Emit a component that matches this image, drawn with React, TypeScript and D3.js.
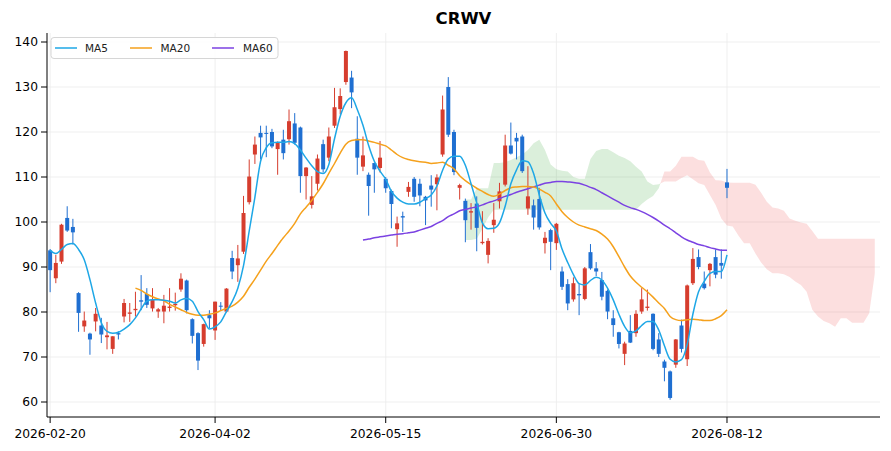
import * as d3 from "d3";

const W = 891;
const H = 451;
const box = { left: 47, right: 880, top: 33, bottom: 417 };

// candles, one entry per trading day (bar 0 = 2026-02-20)
const opens = [
  93.7, 87.5, 91.2, 100.9, 98.9, 84.2, 76.8, 75.2, 77.9, 77.0,
  74.4, 71.8, 75.3, 79.0, 79.6, 80.4, 82.6, 84.0, 80.8, 80.1,
  80.1, 80.9, 81.5, 85.0, 87.0, 78.4, 75.3, 72.9, 79.3, 75.9,
  81.4, 80.1, 92.0, 90.4, 93.4, 104.4, 115.0, 119.8, 119.8, 120.0,
  116.2, 118.3, 118.4, 121.9, 121.0, 110.2, 103.8, 108.5, 117.3, 114.3,
  121.4, 125.1, 131.1, 132.1, 118.5, 112.3, 110.5, 113.1, 112.0, 109.6,
  106.9, 98.4, 101.3, 106.7, 109.6, 108.5, 105.6, 108.1, 108.4, 115.0,
  130.0, 120.0, 107.6, 104.7, 102.1, 104.1, 95.3, 92.7, 99.3, 104.6,
  108.3, 117.0, 118.7, 119.0, 103.0, 103.7, 105.1, 95.3, 98.2, 95.3,
  89.0, 86.2, 82.8, 84.0, 82.9, 93.3, 89.7, 87.1, 84.7, 78.6,
  75.5, 70.7, 75.8, 75.3, 80.1, 80.9, 79.6, 73.9, 69.0, 66.8,
  68.3, 77.0, 69.5, 86.4, 92.2, 86.3, 89.3, 92.2, 90.9, 108.8,
];
const highs = [
  94.0, 92.7, 99.6, 103.5, 100.7, 84.4, 80.1, 75.4, 80.9, 78.7,
  77.8, 74.6, 75.7, 82.9, 82.0, 84.5, 88.2, 85.3, 85.3, 80.9,
  83.8, 85.3, 84.3, 88.6, 87.2, 78.6, 75.5, 77.4, 80.4, 82.3,
  82.2, 85.3, 93.6, 94.9, 105.8, 113.9, 119.0, 121.4, 121.4, 120.7,
  117.9, 120.5, 125.0, 124.2, 121.2, 112.2, 110.2, 115.0, 118.3, 121.0,
  129.8, 129.7, 138.1, 133.6, 123.5, 119.0, 111.0, 113.2, 118.0, 110.0,
  107.2, 101.2, 102.3, 108.9, 110.0, 109.6, 105.8, 110.4, 110.6, 128.1,
  132.2, 120.5, 108.5, 105.2, 104.2, 105.7, 102.4, 96.4, 104.2, 108.7,
  119.4, 122.1, 119.8, 119.4, 112.4, 105.0, 107.6, 97.8, 98.5, 99.8,
  90.1, 87.3, 87.7, 86.4, 90.0, 95.1, 91.1, 88.9, 85.0, 80.4,
  75.6, 73.4, 79.3, 80.4, 85.3, 85.0, 79.7, 75.3, 69.4, 67.0,
  74.0, 78.3, 86.1, 94.2, 93.9, 89.0, 90.9, 93.9, 93.9, 111.8,
];
const lows = [
  84.4, 86.4, 90.7, 97.8, 95.0, 75.6, 75.6, 70.5, 75.7, 73.1,
  71.7, 70.7, 73.9, 77.7, 77.8, 79.0, 80.4, 80.9, 80.1, 78.7,
  77.5, 80.1, 80.3, 84.5, 79.7, 73.0, 67.1, 72.3, 76.4, 73.8,
  80.2, 79.9, 87.3, 86.7, 92.9, 103.9, 112.9, 113.9, 114.4, 116.4,
  110.5, 113.9, 117.2, 117.2, 106.5, 105.0, 103.0, 107.0, 111.0, 113.5,
  120.9, 123.9, 130.5, 125.3, 110.5, 111.3, 101.4, 106.5, 111.0, 106.5,
  98.6, 94.5, 97.8, 105.6, 104.5, 103.5, 99.3, 103.4, 102.6, 114.5,
  118.9, 110.4, 105.0, 95.5, 98.3, 93.5, 95.0, 90.8, 97.6, 103.0,
  107.9, 115.0, 113.9, 110.9, 101.6, 98.3, 98.3, 93.0, 89.3, 93.8,
  84.9, 80.4, 82.3, 79.3, 82.6, 89.4, 88.0, 82.6, 78.4, 74.5,
  71.9, 68.2, 73.1, 74.5, 79.6, 80.3, 71.5, 70.0, 64.6, 60.5,
  67.6, 71.0, 68.0, 86.0, 89.5, 85.0, 85.7, 87.5, 87.4, 105.3,
];
const closes = [
  89.3, 90.9, 99.4, 98.1, 97.7, 79.8, 78.1, 73.9, 79.6, 75.0,
  74.8, 74.6, 75.0, 82.0, 79.9, 80.7, 82.3, 81.6, 82.8, 80.6,
  81.4, 81.2, 81.8, 87.4, 80.4, 74.7, 69.2, 77.3, 78.6, 82.3,
  81.2, 85.2, 89.0, 91.9, 102.0, 110.1, 117.2, 118.8, 119.6, 116.8,
  117.6, 115.3, 122.4, 117.6, 110.2, 112.1, 105.7, 114.1, 111.7, 119.0,
  125.5, 128.0, 138.0, 128.8, 114.3, 114.8, 108.0, 111.7, 114.3, 107.5,
  104.0, 99.7, 101.0, 107.8, 105.6, 105.9, 104.8, 107.2, 109.9, 125.0,
  119.4, 111.1, 108.2, 100.4, 102.4, 98.7, 95.6, 95.8, 100.5, 106.8,
  117.0, 115.2, 117.9, 111.3, 105.7, 101.0, 98.8, 96.5, 95.6, 99.6,
  85.6, 81.9, 86.4, 83.7, 89.7, 89.7, 89.0, 83.4, 80.1, 77.1,
  72.9, 73.0, 73.2, 79.6, 82.8, 81.2, 71.8, 70.7, 67.6, 60.9,
  73.9, 71.8, 85.9, 91.8, 90.0, 85.3, 90.7, 88.3, 90.3, 107.6,
];

// moving averages as plotted
const ma5 = [
  93.7, 93.0, 93.9, 95.0, 95.2, 93.9, 91.6, 87.2, 82.0, 77.6,
  75.7, 75.3, 75.5, 76.2, 77.2, 78.7, 80.7, 82.4, 82.7, 82.7,
  82.6, 82.4, 82.0, 82.7, 83.0, 82.4, 80.1, 78.3, 76.2, 76.7,
  77.8, 80.1, 82.3, 85.3, 90.3, 98.0, 105.5, 113.5, 116.5, 117.6,
  117.7, 117.7, 117.9, 117.4, 116.0, 114.2, 112.5, 111.2, 110.8, 112.8,
  118.5, 123.5, 126.5, 127.6, 125.0, 121.5, 117.0, 113.5, 111.3, 109.5,
  106.8, 105.3, 104.4, 104.0, 104.0, 104.4, 105.2, 106.0, 108.0, 111.5,
  114.0, 114.6, 114.6, 112.6, 108.5, 104.2, 99.8, 98.5, 98.6, 99.8,
  103.5, 108.5, 111.6, 113.6, 113.4, 110.8, 106.0, 102.0, 99.7, 98.0,
  94.0, 91.0, 88.3, 86.3, 86.0, 87.0, 87.7, 87.1, 85.3, 82.7,
  79.5, 76.8, 75.4, 75.8, 77.0, 77.9, 77.9, 76.0, 72.5, 69.5,
  68.9, 69.4, 72.8, 79.5, 84.5, 86.8, 88.6, 89.0, 89.0, 92.7,
];
const ma20Start = 15;
const ma20 = [
  85.3, 84.8, 84.0, 83.4, 82.9,
  82.5, 81.7, 81.1, 80.5, 79.9, 79.5, 79.3, 79.3, 79.5, 79.8,
  80.3, 80.8, 81.3, 82.2, 83.5, 85.5, 87.3, 89.3, 91.3, 93.0,
  94.8, 96.5, 98.0, 99.7, 101.8, 103.3, 104.8, 106.6, 108.5, 110.8,
  113.0, 115.3, 117.3, 118.1, 118.3, 118.3, 118.0, 117.7, 117.3, 116.9,
  116.0, 115.0, 114.3, 113.9, 113.6, 113.4, 113.3, 113.0, 113.1, 113.3,
  112.6, 111.8, 110.3, 109.2, 108.3, 107.5, 106.8, 106.1, 105.7, 106.2,
  107.0, 107.6, 107.8, 107.9, 107.9, 107.8, 107.3, 106.6, 105.8, 104.0,
  102.3, 101.0, 100.0, 99.3, 98.9, 98.5, 98.1, 97.3, 96.2, 94.5,
  92.3, 90.0, 88.0, 86.6, 85.5, 84.5, 83.3, 82.0, 80.8, 79.0,
  78.3, 78.1, 78.3, 78.4, 78.3, 78.1, 78.1, 78.5, 79.2, 80.5,
];
const ma60Start = 55;
const ma60 = [
  96.0, 96.2, 96.5, 96.7, 96.9,
  97.1, 97.3, 97.4, 97.6, 97.8, 98.2, 98.6, 99.0, 99.7, 100.3,
  101.2, 101.8, 102.5, 102.8, 103.1, 103.4, 103.8, 104.3, 104.7, 105.2,
  105.7, 106.1, 106.6, 107.0, 107.4, 107.8, 108.2, 108.6, 108.8, 109.0,
  109.0, 108.9, 108.8, 108.6, 108.2, 107.7, 107.2, 106.5, 105.8, 105.1,
  104.4, 103.7, 103.2, 102.8, 102.3, 101.7, 101.0, 100.2, 99.3, 98.5,
  97.6, 96.7, 96.0, 95.5, 95.0, 94.7, 94.3, 94.0, 93.7, 93.7,
];

// cloud spans, shifted forward past the last candle
const cloudStart = 73;
const spanA = [
  105.0, 105.0, 107.5, 107.5, 107.5, 113.1, 113.1,
  113.3, 113.8, 114.4, 115.0, 116.0, 117.5, 118.3, 116.0, 112.8, 111.7,
  111.4, 111.2, 110.0, 109.6, 109.6, 114.0, 115.8, 116.2, 116.2, 115.5,
  114.7, 114.2, 113.5, 112.3, 111.2, 109.0, 108.2, 108.4, 109.0, 109.0,
  109.0, 109.8, 110.4, 109.5, 108.6, 108.2, 106.0, 103.8, 100.8, 99.2,
  99.0, 97.0, 95.3, 95.3, 93.0, 91.0, 89.5, 88.6, 88.6, 88.4,
  87.8, 86.8, 86.0, 84.5, 80.5, 79.0, 78.0, 77.5, 76.7, 78.6,
  78.6, 77.6, 77.6, 77.6, 79.7, 88.6,
];
const spanB = [
  96.0, 96.0, 96.3, 98.5, 101.0, 102.7, 102.7,
  102.7, 102.7, 102.7, 102.7, 102.7, 102.7, 102.7, 102.7, 102.7, 102.7,
  102.7, 102.7, 102.7, 102.7, 102.7, 102.7, 102.7, 102.7, 102.7, 102.7,
  102.7, 102.7, 102.7, 102.7, 104.0, 105.0, 105.8, 107.5, 111.2, 111.2,
  112.5, 114.5, 114.5, 114.5, 113.8, 113.6, 111.0, 109.3, 109.2, 108.8,
  108.7, 108.7, 108.7, 108.7, 108.3, 106.5, 104.5, 103.2, 103.0, 102.5,
  100.8, 100.3, 99.9, 99.6, 98.0, 96.3, 96.3, 96.3, 96.3, 96.3,
  96.3, 96.3, 96.3, 96.3, 96.3, 96.3,
];

const tickBars = [0, 29, 59, 89, 119];
const tickLabels = ["2026-02-20", "2026-04-02", "2026-05-15", "2026-06-30", "2026-08-12"];
const yTicks = [60, 70, 80, 90, 100, 110, 120, 130, 140];

const UP = "#d63d2e";
const DOWN = "#1f6fd1";
const C5 = "#1ea7e6";
const C20 = "#f5a11c";
const C60 = "#7b42e2";
const FONT = "DejaVu Sans, sans-serif";

export default function App() {
  const x = d3.scaleLinear().domain([-0.55, 145.9]).range([box.left, box.right]);
  const y = d3.scaleLinear().domain([56.667, 142]).range([box.bottom, box.top]);

  const series = (vals: number[], start: number) => vals.map((v, k) => [start + k, v] as [number, number]);
  const line = d3
    .line<[number, number]>()
    .x((d) => x(d[0]))
    .y((d) => y(d[1]))
    .curve(d3.curveMonotoneX);

  const cloud = spanA.map((a, k) => ({ i: cloudStart + k, a, b: spanB[k] }));
  type C = (typeof cloud)[number];
  const aboveB = d3.area<C>().x((d) => x(d.i)).y0(box.top).y1((d) => y(d.b))(cloud)!;
  const belowB = d3.area<C>().x((d) => x(d.i)).y0((d) => y(d.b)).y1(box.bottom)(cloud)!;
  const underA = d3.area<C>().x((d) => x(d.i)).y0((d) => y(d.a)).y1(box.bottom)(cloud)!;
  const overA = d3.area<C>().x((d) => x(d.i)).y0(box.top).y1((d) => y(d.a))(cloud)!;

  const bw = 4;
  const tickFont = 12.3;

  return (
    <svg width={W} height={H} style={{ position: "absolute", left: 0, top: 0 }} fontFamily={FONT}>
      <rect width={W} height={H} fill="#fff" />
      <defs>
        <clipPath id="abB">
          <path d={aboveB} />
        </clipPath>
        <clipPath id="beB">
          <path d={belowB} />
        </clipPath>
      </defs>

      {/* grid */}
      {yTicks.map((t) => (
        <line key={"gy" + t} x1={box.left} x2={box.right} y1={y(t)} y2={y(t)} stroke="#ebebeb" strokeWidth={0.8} />
      ))}
      {tickBars.map((t) => (
        <line key={"gx" + t} x1={x(t)} x2={x(t)} y1={box.top} y2={box.bottom} stroke="#ebebeb" strokeWidth={0.8} />
      ))}

      {/* cloud */}
      <path d={underA} fill="#2ca02c" fillOpacity={0.17} clipPath="url(#abB)" />
      <path d={overA} fill="#f06060" fillOpacity={0.2} clipPath="url(#beB)" />

      {/* candles */}
      {opens.map((o, i) => {
        const c = closes[i];
        const col = c >= o ? UP : DOWN;
        const top = y(Math.max(o, c));
        const h = Math.max(1, y(Math.min(o, c)) - top);
        return (
          <g key={"c" + i}>
            <line x1={x(i)} x2={x(i)} y1={y(highs[i])} y2={y(lows[i])} stroke={col} strokeWidth={1} />
            <rect x={x(i) - bw / 2} y={top} width={bw} height={h} fill={col} />
          </g>
        );
      })}

      {/* moving averages */}
      <path d={line(series(ma60, ma60Start))!} fill="none" stroke={C60} strokeWidth={1.5} />
      <path d={line(series(ma20, ma20Start))!} fill="none" stroke={C20} strokeWidth={1.5} />
      <path d={line(series(ma5, 0))!} fill="none" stroke={C5} strokeWidth={1.5} />

      {/* axes */}
      <line x1={box.left} x2={box.left} y1={box.top} y2={box.bottom} stroke="#000" strokeWidth={1} />
      <line x1={box.left} x2={box.right} y1={box.bottom} y2={box.bottom} stroke="#000" strokeWidth={1} />
      {yTicks.map((t) => (
        <g key={"ty" + t}>
          <line x1={box.left - 6} x2={box.left} y1={y(t)} y2={y(t)} stroke="#000" strokeWidth={1} />
          <text x={box.left - 9} y={y(t)} dy="0.35em" textAnchor="end" fontSize={tickFont} fill="#000">
            {t}
          </text>
        </g>
      ))}
      {tickBars.map((t, k) => (
        <g key={"tx" + t}>
          <line x1={x(t)} x2={x(t)} y1={box.bottom} y2={box.bottom + 6} stroke="#000" strokeWidth={1} />
          <text x={x(t)} y={box.bottom + 20.5} textAnchor="middle" fontSize={tickFont} fill="#000">
            {tickLabels[k]}
          </text>
        </g>
      ))}

      {/* title */}
      <text x={(box.left + box.right) / 2} y={24} textAnchor="middle" fontSize={16.5} fontWeight="bold" fill="#000">
        CRWV
      </text>

      {/* legend */}
      <rect x={51} y={37.5} width={227} height={21} rx={3} fill="#fff" fillOpacity={0.85} stroke="#d6d6d6" />
      {[
        { label: "MA5", color: C5, lx: 55, tx: 85 },
        { label: "MA20", color: C20, lx: 130, tx: 160.5 },
        { label: "MA60", color: C60, lx: 212, tx: 243 },
      ].map((e) => (
        <g key={e.label}>
          <line x1={e.lx} x2={e.lx + 22} y1={48} y2={48} stroke={e.color} strokeWidth={1.5} />
          <text x={e.tx} y={48} dy="0.35em" fontSize={10.5} fill="#222">
            {e.label}
          </text>
        </g>
      ))}
    </svg>
  );
}
